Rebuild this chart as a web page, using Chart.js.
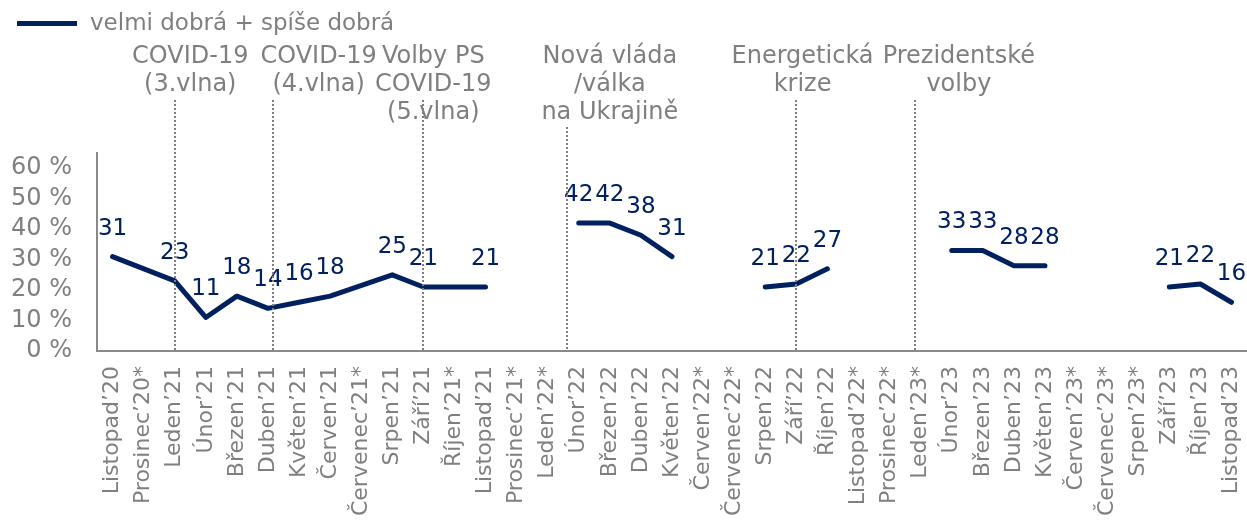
<!DOCTYPE html>
<html lang="cs">
<head>
    <meta charset="UTF-8">
    <title>velmi dobrá + spíše dobrá</title>
    <script src="https://cdn.jsdelivr.net/npm/chart.js"></script>
    <style>
        body {
            margin: 0;
            padding: 0;
            background: #fff;
        }
        .chart-box {
            position: relative;
            width: 1247px;
            height: 530px;
        }
    </style>
</head>
<body>
    <div class="chart-box">
        <canvas id="moodChart"></canvas>
    </div>

    <script>
        // months of the survey (* = not surveyed)
        const categories = [
            'Listopad’20', 'Prosinec’20*', 'Leden’21', 'Únor’21', 'Březen’21', 'Duben’21',
            'Květen’21', 'Červen’21', 'Červenec’21*', 'Srpen’21', 'Září’21', 'Říjen’21*',
            'Listopad’21', 'Prosinec’21*', 'Leden’22*', 'Únor’22', 'Březen’22', 'Duben’22',
            'Květen’22', 'Červen’22*', 'Červenec’22*', 'Srpen’22', 'Září’22', 'Říjen’22',
            'Listopad’22*', 'Prosinec’22*', 'Leden’23*', 'Únor’23', 'Březen’23', 'Duben’23',
            'Květen’23', 'Červen’23*', 'Červenec’23*', 'Srpen’23*', 'Září’23', 'Říjen’23',
            'Listopad’23'
        ];

        // velmi dobrá + spíše dobrá (%)
        const goodValues = [
            31, null, 23, 11, 18, 14,
            16, 18, null, 25, 21, null,
            21, null, null, 42, 42, 38,
            31, null, null, 21, 22, 27,
            null, null, null, 33, 33, 28,
            28, null, null, null, 21, 22,
            16
        ];

        const seriesLabel = 'velmi dobrá + spíše dobrá';
        const yTicks = [0, 10, 20, 30, 40, 50, 60];

        // events marked with dotted lines
        const events = [
            { at: 'Leden’21', text: ['COVID-19', '(3.vlna)'] },
            { at: 'Duben’21', text: ['COVID-19', '(4.vlna)'] },
            { at: 'Září’21', text: ['Volby PS', 'COVID-19', '(5.vlna)'] },
            { at: 'Únor’22', text: ['Nová vláda', '/válka', 'na Ukrajině'] },
            { at: 'Září’22', text: ['Energetická', 'krize'] },
            { at: 'Leden’23*', text: ['Prezidentské', 'volby'] }
        ];
        // where the lines / texts sit relative to their month (in months) and line top (px)
        const eventPlacement = [
            { line: 0, text: 0.5, top: 100 },
            { line: 0.15, text: 1.63, top: 100 },
            { line: 0, text: 0.32, top: 100 },
            { line: -0.39, text: 1.0, top: 127 },
            { line: 0, text: 0.2, top: 100 },
            { line: -0.18, text: 1.23, top: 100 }
        ];

        const NAVY = '#002060';
        const GREY = '#7f7f7f';
        const FONT = '"DejaVu Sans", Verdana, sans-serif';

        Chart.defaults.font.family = FONT;
        Chart.defaults.color = GREY;

        // points without a survey are left out, short gaps (one month) get bridged
        const points = categories
            .map((c, i) => ({ x: c, y: goodValues[i] }))
            .filter(p => p.y !== null);

        const overlay = {
            id: 'overlay',
            afterDraw(chart) {
                const ctx = chart.ctx;
                const xs = chart.scales.x;
                const area = chart.chartArea;

                // value labels
                const meta = chart.getDatasetMeta(0);
                ctx.save();
                ctx.font = '23px ' + FONT;
                ctx.fillStyle = NAVY;
                ctx.textAlign = 'center';
                ctx.textBaseline = 'alphabetic';
                meta.data.forEach((pt, i) => {
                    ctx.fillText(String(points[i].y), pt.x, pt.y - 22);
                });

                // legend
                ctx.fillStyle = NAVY;
                ctx.fillRect(17, 21, 60, 5);
                ctx.font = '23px ' + FONT;
                ctx.fillStyle = GREY;
                ctx.textAlign = 'left';
                ctx.textBaseline = 'middle';
                ctx.fillText(seriesLabel, 90, 24);

                // event texts
                ctx.font = '24px ' + FONT;
                ctx.textAlign = 'center';
                events.forEach((ev, k) => {
                    const idx = categories.indexOf(ev.at);
                    const tx = xs.getPixelForValue(idx + eventPlacement[k].text);
                    ev.text.forEach((line, j) => {
                        ctx.fillText(line, tx, 57 + j * 28);
                    });
                });

                // event lines
                ctx.strokeStyle = GREY;
                ctx.lineWidth = 2;
                ctx.setLineDash([2, 2]);
                events.forEach((ev, k) => {
                    const idx = categories.indexOf(ev.at);
                    const lx = Math.round(xs.getPixelForValue(idx + eventPlacement[k].line));
                    ctx.beginPath();
                    ctx.moveTo(lx, eventPlacement[k].top);
                    ctx.lineTo(lx, area.bottom);
                    ctx.stroke();
                });
                ctx.restore();
            }
        };

        const ctx = document.getElementById('moodChart').getContext('2d');
        const moodChart = new Chart(ctx, {
            type: 'line',
            data: {
                labels: categories,
                datasets: [{
                    label: seriesLabel,
                    data: points,
                    borderColor: NAVY,
                    backgroundColor: NAVY,
                    borderWidth: 5,
                    borderCapStyle: 'round',
                    borderJoinStyle: 'round',
                    pointRadius: 0,
                    tension: 0,
                    spanGaps: 2
                }]
            },
            options: {
                responsive: true,
                maintainAspectRatio: false,
                animation: false,
                layout: {
                    padding: { top: 153, left: 0, right: 0, bottom: 0 }
                },
                plugins: {
                    legend: { display: false },
                    tooltip: { enabled: false }
                },
                scales: {
                    x: {
                        type: 'category',
                        offset: true,
                        grid: { display: false, drawTicks: false },
                        border: { display: true, color: '#898989', width: 2 },
                        ticks: {
                            autoSkip: false,
                            minRotation: 90,
                            maxRotation: 90,
                            padding: 15,
                            color: GREY,
                            font: { size: 22 }
                        },
                        afterFit(scale) {
                            scale.height = 179;
                            scale.paddingLeft = 0;
                            scale.paddingRight = 0;
                        }
                    },
                    y: {
                        min: 0,
                        max: 65,
                        grid: { display: false, drawTicks: false },
                        border: { display: true, color: '#898989', width: 2 },
                        afterBuildTicks(scale) {
                            scale.ticks = yTicks.map(v => ({ value: v }));
                        },
                        ticks: {
                            padding: 25,
                            color: GREY,
                            font: { size: 24 },
                            callback: v => v + ' %'
                        },
                        afterFit(scale) {
                            scale.width = 97;
                        }
                    }
                }
            },
            plugins: [overlay]
        });
    </script>
</body>
</html>
